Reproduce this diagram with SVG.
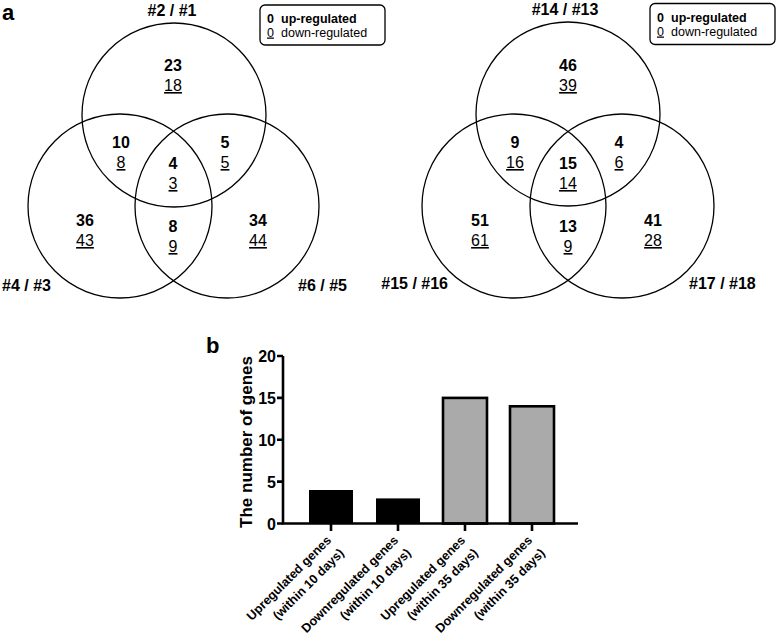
<svg xmlns="http://www.w3.org/2000/svg" width="777" height="639" viewBox="0 0 777 639">
<style>
text{font-family:"Liberation Sans",Arial,sans-serif;fill:#000}
.c{fill:none;stroke:#000;stroke-width:1.3}
.n{font-size:16px;font-weight:bold;text-anchor:middle}
.d{font-size:16px;text-anchor:middle;text-decoration:underline}
.lab{font-size:16px;font-weight:bold}
.lg{fill:#fff;stroke:#000;stroke-width:1.3}
.lt{font-size:12.5px}
.pl{font-size:22px;font-weight:bold}
.ax{stroke:#000;stroke-width:2.6;fill:none}
.tk{font-size:16px;font-weight:bold;text-anchor:end}
.xl{font-size:12.6px;font-weight:bold;text-anchor:end}
</style>
<rect width="777" height="639" fill="#fff"/>
<text class="pl" x="2" y="20">a</text>

<g id="venn-left">
  <circle class="c" cx="174" cy="115" r="92"/>
  <circle class="c" cx="120" cy="206" r="92"/>
  <circle class="c" cx="227" cy="206" r="92"/>
  <text class="lab" x="172" y="16" text-anchor="middle">#2 / #1</text>
  <text class="lab" x="2" y="291">#4 / #3</text>
  <text class="lab" x="298" y="291">#6 / #5</text>
  <text class="n" x="173" y="71">23</text><text class="d" x="173" y="91">18</text>
  <text class="n" x="121" y="148">10</text><text class="d" x="121" y="168">8</text>
  <text class="n" x="225" y="148">5</text><text class="d" x="225" y="168">5</text>
  <text class="n" x="173" y="169">4</text><text class="d" x="173" y="189">3</text>
  <text class="n" x="85" y="226">36</text><text class="d" x="85" y="246">43</text>
  <text class="n" x="173" y="232">8</text><text class="d" x="173" y="252">9</text>
  <text class="n" x="258" y="226">34</text><text class="d" x="258" y="246">44</text>
</g>
<g id="legend-left">
  <rect class="lg" x="260" y="5" width="125" height="40" rx="5"/>
  <text class="lt" x="267" y="22.5" font-weight="bold">0</text>
  <text class="lt" x="281" y="22.5" font-weight="bold">up-regulated</text>
  <text class="lt" x="267" y="36.5" text-decoration="underline">0</text>
  <text class="lt" x="281" y="36.5">down-regulated</text>
</g>

<g id="venn-right">
  <circle class="c" cx="568" cy="114" r="92"/>
  <circle class="c" cx="514" cy="206" r="92"/>
  <circle class="c" cx="622" cy="206" r="92"/>
  <text class="lab" x="565" y="15" text-anchor="middle">#14 / #13</text>
  <text class="lab" x="448" y="289" text-anchor="end">#15 / #16</text>
  <text class="lab" x="689" y="289">#17 / #18</text>
  <text class="n" x="568" y="71">46</text><text class="d" x="568" y="91">39</text>
  <text class="n" x="515" y="148">9</text><text class="d" x="515" y="168">16</text>
  <text class="n" x="619" y="148">4</text><text class="d" x="619" y="168">6</text>
  <text class="n" x="568" y="169">15</text><text class="d" x="568" y="189">14</text>
  <text class="n" x="480" y="226">51</text><text class="d" x="480" y="246">61</text>
  <text class="n" x="568" y="232">13</text><text class="d" x="568" y="252">9</text>
  <text class="n" x="653" y="226">41</text><text class="d" x="653" y="246">28</text>
</g>
<g id="legend-right">
  <rect class="lg" x="650" y="3.5" width="125" height="41" rx="5"/>
  <text class="lt" x="657" y="21.5" font-weight="bold">0</text>
  <text class="lt" x="671" y="21.5" font-weight="bold">up-regulated</text>
  <text class="lt" x="657" y="35.5" text-decoration="underline">0</text>
  <text class="lt" x="671" y="35.5">down-regulated</text>
</g>

<g id="bar-chart">
  <text class="pl" x="206" y="353">b</text>
  <text font-size="17" font-weight="bold" text-anchor="middle" transform="translate(252 442) rotate(-90)">The number of genes</text>
  <g id="bars">
    <rect x="309" y="490" width="44" height="33.5" fill="#000"/>
    <rect x="376" y="498.4" width="44" height="25.1" fill="#000"/>
    <rect x="443" y="397.9" width="44" height="125.6" fill="#aaa" stroke="#000" stroke-width="2.6"/>
    <rect x="510" y="406.3" width="44" height="117.2" fill="#aaa" stroke="#000" stroke-width="2.6"/>
  </g>
  <g id="axes">
    <path class="ax" d="M283 356V523.5H578"/>
    <path class="ax" d="M277 356H283M277 397.9H283M277 439.8H283M277 481.6H283M277 523.5H283"/>
    <path class="ax" d="M331 523.5V531M398 523.5V531M465 523.5V531M532 523.5V531"/>
    <text class="tk" x="276" y="362">20</text>
    <text class="tk" x="276" y="403.5">15</text>
    <text class="tk" x="276" y="445.5">10</text>
    <text class="tk" x="276" y="487.5">5</text>
    <text class="tk" x="276" y="529.5">0</text>
  </g>
  <g id="xlabels">
    <g transform="translate(332 541) rotate(-45)"><text class="xl" x="0" y="0">Upregulated genes</text><text class="xl" x="0" y="18">(within 10 days)</text></g>
    <g transform="translate(399 541) rotate(-45)"><text class="xl" x="0" y="0">Downregulated genes</text><text class="xl" x="0" y="18">(within 10 days)</text></g>
    <g transform="translate(466 541) rotate(-45)"><text class="xl" x="0" y="0">Upregulated genes</text><text class="xl" x="0" y="18">(within 35 days)</text></g>
    <g transform="translate(533 541) rotate(-45)"><text class="xl" x="0" y="0">Downregulated genes</text><text class="xl" x="0" y="18">(within 35 days)</text></g>
  </g>
</g>
</svg>
